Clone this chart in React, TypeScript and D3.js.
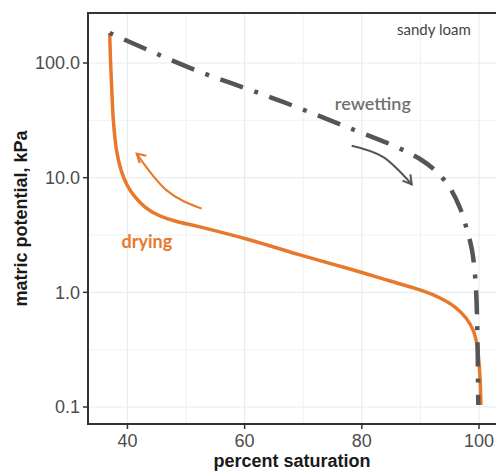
import React, { useEffect, useRef } from 'react';
import * as d3 from 'd3';

// drying curve (percent saturation, matric potential kPa)
const dryingSat = [36.97, 37.11, 37.33, 37.59, 38.13, 38.9, 39.93, 41.29, 43.0, 45.22, 48.12, 52.38, 60.92, 69.45, 77.98, 84.81, 89.93, 93.34, 95.9, 97.78, 98.97, 99.66, 100.05, 100.26, 100.31];
const dryingKpa = [182.7, 106.3, 58.2, 31.9, 17.4, 11.7, 8.64, 6.79, 5.55, 4.73, 4.19, 3.72, 2.86, 2.12, 1.6, 1.256, 1.049, 0.893, 0.745, 0.598, 0.47, 0.348, 0.2235, 0.1408, 0.1042];

// rewetting curve
const wetSat = [36.97, 44.87, 53.18, 61.2, 69.45, 77.64, 85.95, 89.93, 92.83, 95.05, 96.76, 97.95, 98.8, 99.32, 99.57, 99.74, 99.88];
const wetKpa = [182.7, 121, 80.7, 57.7, 40.2, 27.4, 18.5, 14.55, 11.2, 8.13, 5.44, 3.5, 2.34, 1.417, 0.858, 0.384, 0.104];

// annotation arrows (tail, middle, head)
const dryArrowSat = [52.67, 46.69, 41.57];
const dryArrowKpa = [5.37, 7.75, 16.2];
const wetArrowSat = [78.27, 83.67, 88.52];
const wetArrowKpa = [19.0, 15.1, 8.74];

const xTicks = [40, 60, 80, 100];
const xMinor = [50, 70, 90];
const yTicks = [0.1, 1, 10, 100];
const yTickLabels = ['0.1', '1.0', '10.0', '100.0'];
const yMinor = [0.316, 3.16, 31.6];

const ORANGE = '#e8782c';
const GREY = '#555555';

function App() {
  const ref = useRef<SVGSVGElement>(null);

  useEffect(() => {
    const svg = d3.select(ref.current);
    svg.selectAll('*').remove();

    const left = 88, right = 497, top = 13, bottom = 424;
    const x = d3.scaleLinear().domain([33.27, 103.07]).range([left, right]);
    const y = d3.scaleLog().domain([0.0711, 273]).range([bottom, top]);

    const g = svg.append('g');

    // grid
    g.selectAll('.xminor').data(xMinor).enter().append('line')
      .attr('x1', d => x(d)).attr('x2', d => x(d)).attr('y1', top).attr('y2', bottom)
      .attr('stroke', '#eef3f3').attr('stroke-width', 1);
    g.selectAll('.yminor').data(yMinor).enter().append('line')
      .attr('y1', d => y(d)).attr('y2', d => y(d)).attr('x1', left).attr('x2', right)
      .attr('stroke', '#eef3f3').attr('stroke-width', 1);
    g.selectAll('.xmajor').data(xTicks).enter().append('line')
      .attr('x1', d => x(d)).attr('x2', d => x(d)).attr('y1', top).attr('y2', bottom)
      .attr('stroke', '#e6eded').attr('stroke-width', 1.2);
    g.selectAll('.ymajor').data(yTicks).enter().append('line')
      .attr('y1', d => y(d)).attr('y2', d => y(d)).attr('x1', left).attr('x2', right)
      .attr('stroke', '#e6eded').attr('stroke-width', 1.2);

    // panel border
    g.append('rect')
      .attr('x', left).attr('y', top).attr('width', right - left).attr('height', bottom - top)
      .attr('fill', 'none').attr('stroke', '#333').attr('stroke-width', 2);

    // ticks + labels
    const font = '"Liberation Sans", Arial, sans-serif';
    g.selectAll('.xt').data(xTicks).enter().append('line')
      .attr('x1', d => x(d)).attr('x2', d => x(d)).attr('y1', bottom).attr('y2', bottom + 5)
      .attr('stroke', '#333').attr('stroke-width', 1.5);
    g.selectAll('.xl').data(xTicks).enter().append('text')
      .attr('x', d => x(d)).attr('y', bottom + 23)
      .attr('text-anchor', 'middle').attr('font-family', font).attr('font-size', 18)
      .attr('fill', '#4d4d4d').text(d => String(d));
    g.selectAll('.yt').data(yTicks).enter().append('line')
      .attr('y1', d => y(d)).attr('y2', d => y(d)).attr('x1', left - 5).attr('x2', left)
      .attr('stroke', '#333').attr('stroke-width', 1.5);
    g.selectAll('.yl').data(yTicks).enter().append('text')
      .attr('x', left - 8).attr('y', d => y(d)).attr('dy', '0.35em')
      .attr('text-anchor', 'end').attr('font-family', font).attr('font-size', 18)
      .attr('fill', '#4d4d4d').text((d, i) => yTickLabels[i]);

    // axis titles
    g.append('text')
      .attr('x', (left + 496) / 2).attr('y', 467)
      .attr('text-anchor', 'middle').attr('font-family', font).attr('font-size', 18)
      .attr('font-weight', 'bold').attr('fill', '#1a1a1a').text('percent saturation');
    g.append('text')
      .attr('transform', `translate(27,${(top + bottom) / 2}) rotate(-90)`)
      .attr('text-anchor', 'middle').attr('font-family', font).attr('font-size', 18)
      .attr('font-weight', 'bold').attr('fill', '#1a1a1a').text('matric potential, kPa');

    const line = d3.line<[number, number]>()
      .x(d => x(d[0])).y(d => y(d[1]))
      .curve(d3.curveCatmullRom.alpha(0.5));

    const drying: [number, number][] = dryingSat.map((s, i) => [s, dryingKpa[i]]);
    const wetting: [number, number][] = wetSat.map((s, i) => [s, wetKpa[i]]);

    g.append('path').datum(drying)
      .attr('d', line).attr('fill', 'none').attr('stroke', ORANGE).attr('stroke-width', 3.5);

    g.append('path').datum(wetting)
      .attr('d', line).attr('fill', 'none').attr('stroke', GREY).attr('stroke-width', 4.5)
      .attr('stroke-dasharray', '4 12 24 12');

    // arrows
    const arrow = (sat: number[], kpa: number[], color: string) => {
      const pts: [number, number][] = sat.map((s, i) => [s, kpa[i]]);
      g.append('path').datum(pts)
        .attr('d', d3.line<[number, number]>().x(d => x(d[0])).y(d => y(d[1])).curve(d3.curveNatural))
        .attr('fill', 'none').attr('stroke', color).attr('stroke-width', 2);
      const n = pts.length;
      const hx = x(pts[n - 1][0]), hy = y(pts[n - 1][1]);
      const px = x(pts[n - 2][0]), py = y(pts[n - 2][1]);
      const ang = Math.atan2(hy - py, hx - px) + 0.15 * Math.sign(hx - px);
      const len = 10, spread = Math.PI / 6;
      const a1 = ang + Math.PI - spread, a2 = ang + Math.PI + spread;
      g.append('path')
        .attr('d', `M${hx + len * Math.cos(a1)},${hy + len * Math.sin(a1)}L${hx},${hy}L${hx + len * Math.cos(a2)},${hy + len * Math.sin(a2)}`)
        .attr('fill', 'none').attr('stroke', color).attr('stroke-width', 2);
    };
    arrow(dryArrowSat, dryArrowKpa, ORANGE);
    arrow(wetArrowSat, wetArrowKpa, GREY);

    // annotations
    g.append('text')
      .attr('x', x(98.6)).attr('y', y(174)).attr('text-anchor', 'end')
      .attr('font-family', 'Lato, "Open Sans", sans-serif').attr('font-size', 15)
      .attr('fill', '#444').text('sandy loam');
    g.append('text')
      .attr('x', x(75.4)).attr('y', y(38.6))
      .attr('font-family', 'Lato, "Open Sans", sans-serif').attr('font-size', 18).attr('font-weight', 600)
      .attr('fill', '#707070').text('rewetting');
    g.append('text')
      .attr('x', x(39.0)).attr('y', y(2.42))
      .attr('font-family', 'Lato, "Open Sans", sans-serif').attr('font-size', 18).attr('font-weight', 'bold')
      .attr('fill', ORANGE).text('drying');
  }, []);

  return (
    <div>
      <svg ref={ref} width={496} height={472}
        style={{ position: 'absolute', left: 0, top: 0, display: 'block', background: '#fff' }} />
    </div>
  );
}

export default App;
